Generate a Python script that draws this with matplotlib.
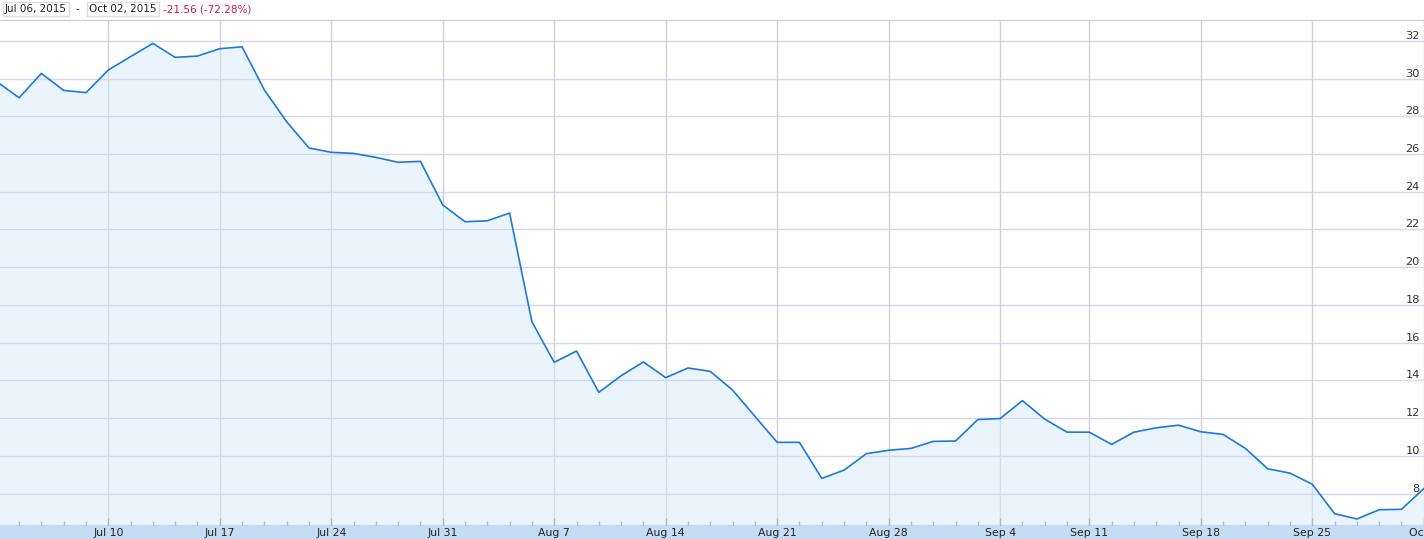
import numpy as np
import pandas as pd
import matplotlib
matplotlib.use("Agg")
import matplotlib.pyplot as plt
from matplotlib.patches import Rectangle

# trading days Jul 2 - Oct 2 2015 (Jul 3 and Sep 7 closed)
dates = pd.bdate_range("2015-07-02", "2015-10-02", freq="C",
                       holidays=["2015-07-03", "2015-09-07"])

closes = [29.83, 28.98, 30.27, 29.37, 29.25, 30.45, 31.16, 31.86, 31.12, 31.19,
          31.58, 31.68, 29.39, 27.71, 26.32, 26.09, 26.03, 25.82, 25.56, 25.61,
          23.30, 22.41, 22.46, 22.87, 17.11, 14.96, 15.56, 13.37, 14.25, 14.98,
          14.15, 14.66, 14.48, 13.49, 12.10, 10.72, 10.72, 8.81, 9.25, 10.12,
          10.30, 10.40, 10.77, 10.79, 11.93, 11.98, 12.93, 11.95, 11.26, 11.26,
          10.61, 11.26, 11.49, 11.63, 11.28, 11.14, 10.40, 9.32, 9.09, 8.50,
          6.94, 6.66, 7.15, 7.17, 8.27]

y_ticks = list(range(8, 33, 2))
range_start = "Jul 06, 2015"
range_end = "Oct 02, 2015"
change_text = "-21.56 (-72.28%)"

x = np.arange(len(dates)) - 1  # Jul 06 is index 0
fridays = [i for i, d in zip(x, dates) if d.weekday() == 4]
friday_labels = [f"{d:%b} {d.day}" for d in dates if d.weekday() == 4]

fig = plt.figure(figsize=(14.24, 5.39), dpi=100)
ax = fig.add_axes([0, 14 / 539, 1, 505 / 539])

line_col = "#1f78d8"
ax.fill_between(x, closes, 0, color="#d7ebfb", alpha=0.5, lw=0, zorder=1)
ax.plot(x, closes, color=line_col, lw=1.2, zorder=2)

ax.set_xlim(-0.857, 63.01)
ax.set_ylim(6.34, 33.10)

ax.set_xticks(fridays)
ax.set_xticklabels(friday_labels)
ax.set_xticks(x[1:], minor=True)
ax.set_yticks(y_ticks)
ax.set_yticklabels([str(v) for v in y_ticks])

ax.xaxis.grid(True, color="#cfcfd6", lw=1)
ax.yaxis.grid(True, color="#d6d6ec", lw=1)
ax.xaxis.set_zorder(0.5)
ax.yaxis.set_zorder(1.5)

ax.tick_params(axis="x", which="major", direction="in", length=5, width=1,
               color="#8a8a8a", pad=2, labelsize=7.8, labelcolor="#222222")
ax.tick_params(axis="x", which="minor", direction="in", length=3, width=1,
               color="#8a8a8a")
ax.yaxis.tick_right()
ax.tick_params(axis="y", length=0, pad=-3, labelsize=8.2, labelcolor="#333333")
for lab in ax.get_yticklabels():
    lab.set_horizontalalignment("right")
    lab.set_verticalalignment("bottom")

for s in ["left", "right", "bottom"]:
    ax.spines[s].set_visible(False)
ax.spines["top"].set_color("#cccccc")

# blue date band under the plot
band = Rectangle((0, 0), 1, 14 / 539, transform=fig.transFigure,
                 color="#c6dcf5", zorder=0, clip_on=False)
ax.add_patch(band)

# header
box = dict(boxstyle="square,pad=0.22", fc="white", ec="#dddddd", lw=1)
hy = 1 - 9 / 539
fig.text(5 / 1424, hy, range_start, fontsize=7.5, color="#222222",
         va="center", ha="left", bbox=box)
fig.text(77 / 1424, hy, "-", fontsize=7.5, color="#222222",
         va="center", ha="center")
fig.text(89 / 1424, hy, range_end, fontsize=7.5, color="#222222",
         va="center", ha="left", bbox=box)
fig.text(163 / 1424, hy, change_text, fontsize=7.5, color="#c8184e",
         va="center", ha="left")

fig.savefig("out.png", dpi=100)
